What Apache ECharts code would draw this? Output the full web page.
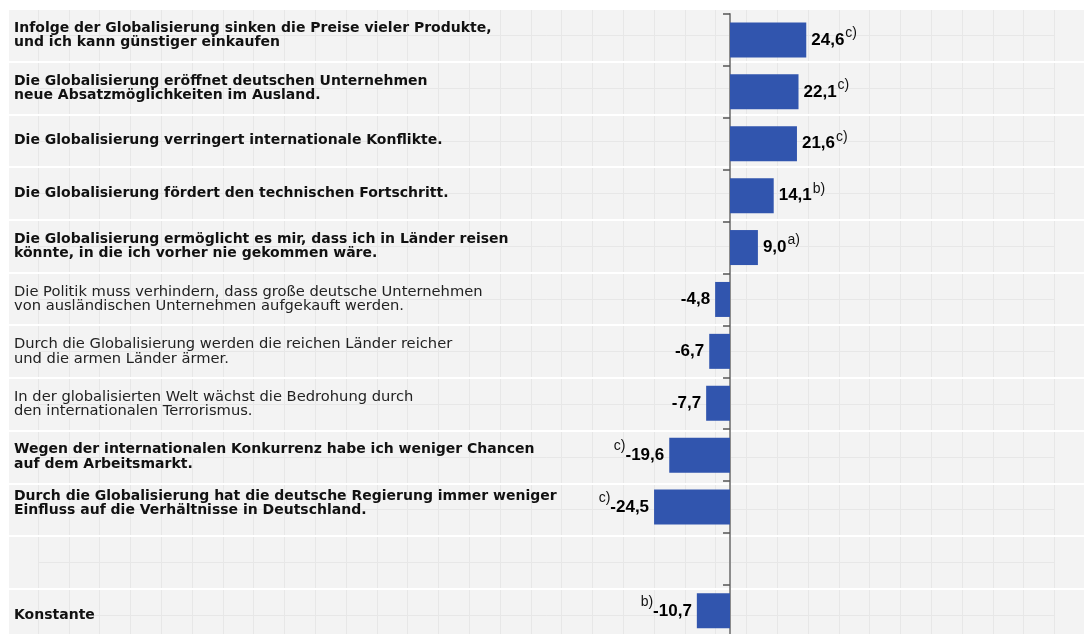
<!DOCTYPE html>
<html>
<head>
<meta charset="utf-8">
<script src="https://cdn.jsdelivr.net/npm/echarts@6/dist/echarts.min.js"></script>
<style>
    html,body{margin:0;padding:0;background:#fff;}
    #chart{width:1084px;height:634px;}
</style>
</head>
<body>
<div id="chart"></div>
<script>
// Aussagen (Zeilen von oben nach unten)
var labels = [
    "Infolge der Globalisierung sinken die Preise vieler Produkte,\nund ich kann günstiger einkaufen",
    "Die Globalisierung eröffnet deutschen Unternehmen\nneue Absatzmöglichkeiten im Ausland.",
    "Die Globalisierung verringert internationale Konflikte.",
    "Die Globalisierung fördert den technischen Fortschritt.",
    "Die Globalisierung ermöglicht es mir, dass ich in Länder reisen\nkönnte, in die ich vorher nie gekommen wäre.",
    "Die Politik muss verhindern, dass große deutsche Unternehmen\nvon ausländischen Unternehmen aufgekauft werden.",
    "Durch die Globalisierung werden die reichen Länder reicher\nund die armen Länder ärmer.",
    "In der globalisierten Welt wächst die Bedrohung durch\nden internationalen Terrorismus.",
    "Wegen der internationalen Konkurrenz habe ich weniger Chancen\nauf dem Arbeitsmarkt.",
    "Durch die Globalisierung hat die deutsche Regierung immer weniger\nEinfluss auf die Verhältnisse in Deutschland.",
    "",
    "Konstante"
];
var values = [24.6, 22.1, 21.6, 14.1, 9.0, -4.8, -6.7, -7.7, -19.6, -24.5, null, -10.7];
var notes = ["c)", "c)", "c)", "b)", "a)", "", "", "", "c)", "c)", "", "b)"];
var boldRows = [1, 1, 1, 1, 1, 0, 0, 0, 1, 1, 0, 1];

var FONT = "'Liberation Sans', Arial, Helvetica, sans-serif";
var LFONT = "'DejaVu Sans', sans-serif";
var rowIdx = labels.map(function(l, i){ return String(i); });

function fmt(v){
    return v.toFixed(1).replace(".", ",");
}

var chart = echarts.init(document.getElementById("chart"));
var option = {
    animation: false,
    textStyle: {fontFamily: FONT},
    grid: [
        // 0: Balken
        {left: 9, right: 0, top: 14, height: 622.8, outerBoundsMode: "none"},
        // 1: Hintergrund + Beschriftung
        {left: 9, right: 0, top: 9, height: 632.4, outerBoundsMode: "none", show: true, backgroundColor: "#f3f3f3", borderWidth: 0, z: 0},
        // 2: feines Raster
        {left: 38, right: 29.6, top: 9, height: 632.4, outerBoundsMode: "none"}
    ],
    xAxis: [
        {gridIndex: 0, type: "value", min: -232.6, max: 114.2, show: false},
        {gridIndex: 1, type: "value", min: 0, max: 1, show: false},
        {
            gridIndex: 2, type: "value", min: 0, max: 33, interval: 1, z: 1,
            axisLine: {show: false}, axisTick: {show: false}, axisLabel: {show: false},
            splitLine: {show: true, lineStyle: {color: "#e7e7e7", width: 1}}
        }
    ],
    yAxis: [
        {
            gridIndex: 0, type: "category", data: rowIdx, inverse: true, z: 3,
            axisLine: {onZero: true, lineStyle: {color: "#8c8c8c", width: 2}},
            axisTick: {show: true, length: 7, lineStyle: {color: "#555", width: 1.5}},
            axisLabel: {show: false},
            splitLine: {show: false}
        },
        {
            gridIndex: 1, type: "category", data: rowIdx, inverse: true, z: 2,
            axisLine: {show: false}, axisTick: {show: false},
            splitLine: {show: true, interval: 0, lineStyle: {color: "#ffffff", width: 2}},
            axisLabel: {
                interval: 0, align: "left", margin: -5,
                formatter: function(v){
                    var i = +v, t = labels[i];
                    if(!t) return "";
                    var st = boldRows[i] ? "b" : "n";
                    if(i == 9) st = "u";
                    return t.split("\n").map(function(line){
                        return "{" + st + "|" + line + "}";
                    }).join("\n");
                },
                rich: {
                    b: {fontSize: 14, fontWeight: "bold", color: "#111", lineHeight: 14.3, fontFamily: LFONT},
                    n: {fontSize: 14.7, color: "#222", lineHeight: 14.3, fontFamily: LFONT},
                    u: {fontSize: 14, fontWeight: "bold", color: "#111", lineHeight: 14.3, fontFamily: LFONT, padding: [0, 0, 13, 0]}
                }
            }
        },
        {
            gridIndex: 2, type: "value", min: 0, max: 24, interval: 1, inverse: true, z: 1,
            axisLine: {show: false}, axisTick: {show: false}, axisLabel: {show: false},
            splitLine: {show: true, lineStyle: {color: "#e7e7e7", width: 1}}
        }
    ],
    series: [{
        type: "bar",
        xAxisIndex: 0,
        yAxisIndex: 0,
        z: 4,
        barWidth: 35,
        itemStyle: {color: "#3155ae"},
        label: {
            show: true,
            formatter: function(p){
                var v = values[p.dataIndex], n = notes[p.dataIndex];
                if(v == null) return "";
                if(v >= 0){
                    return "{vp|" + fmt(v) + "}" + (n ? "{sp|" + n + "}" : "");
                }
                return (n ? "{sn|" + n + "}" : "") + "{vn|" + fmt(v) + "}";
            },
            rich: {
                vp: {fontSize: 17, fontWeight: "bold", color: "#000", lineHeight: 28, fontFamily: FONT},
                sp: {fontSize: 14, color: "#111", lineHeight: 14, verticalAlign: "top", padding: [0, 0, 0, 1], fontFamily: FONT},
                vn: {fontSize: 17, fontWeight: "bold", color: "#000", lineHeight: 32, fontFamily: FONT},
                sn: {fontSize: 14, color: "#111", lineHeight: 14, verticalAlign: "top", fontFamily: FONT}
            }
        }
    }]
};
// Positive Werte rechts, negative links beschriften
option.series[0].data = values.map(function(v){
    if(v == null) return null;
    return {value: v, label: {position: v >= 0 ? "right" : "left", distance: 5}};
});
chart.setOption(option);
</script>
</body>
</html>
